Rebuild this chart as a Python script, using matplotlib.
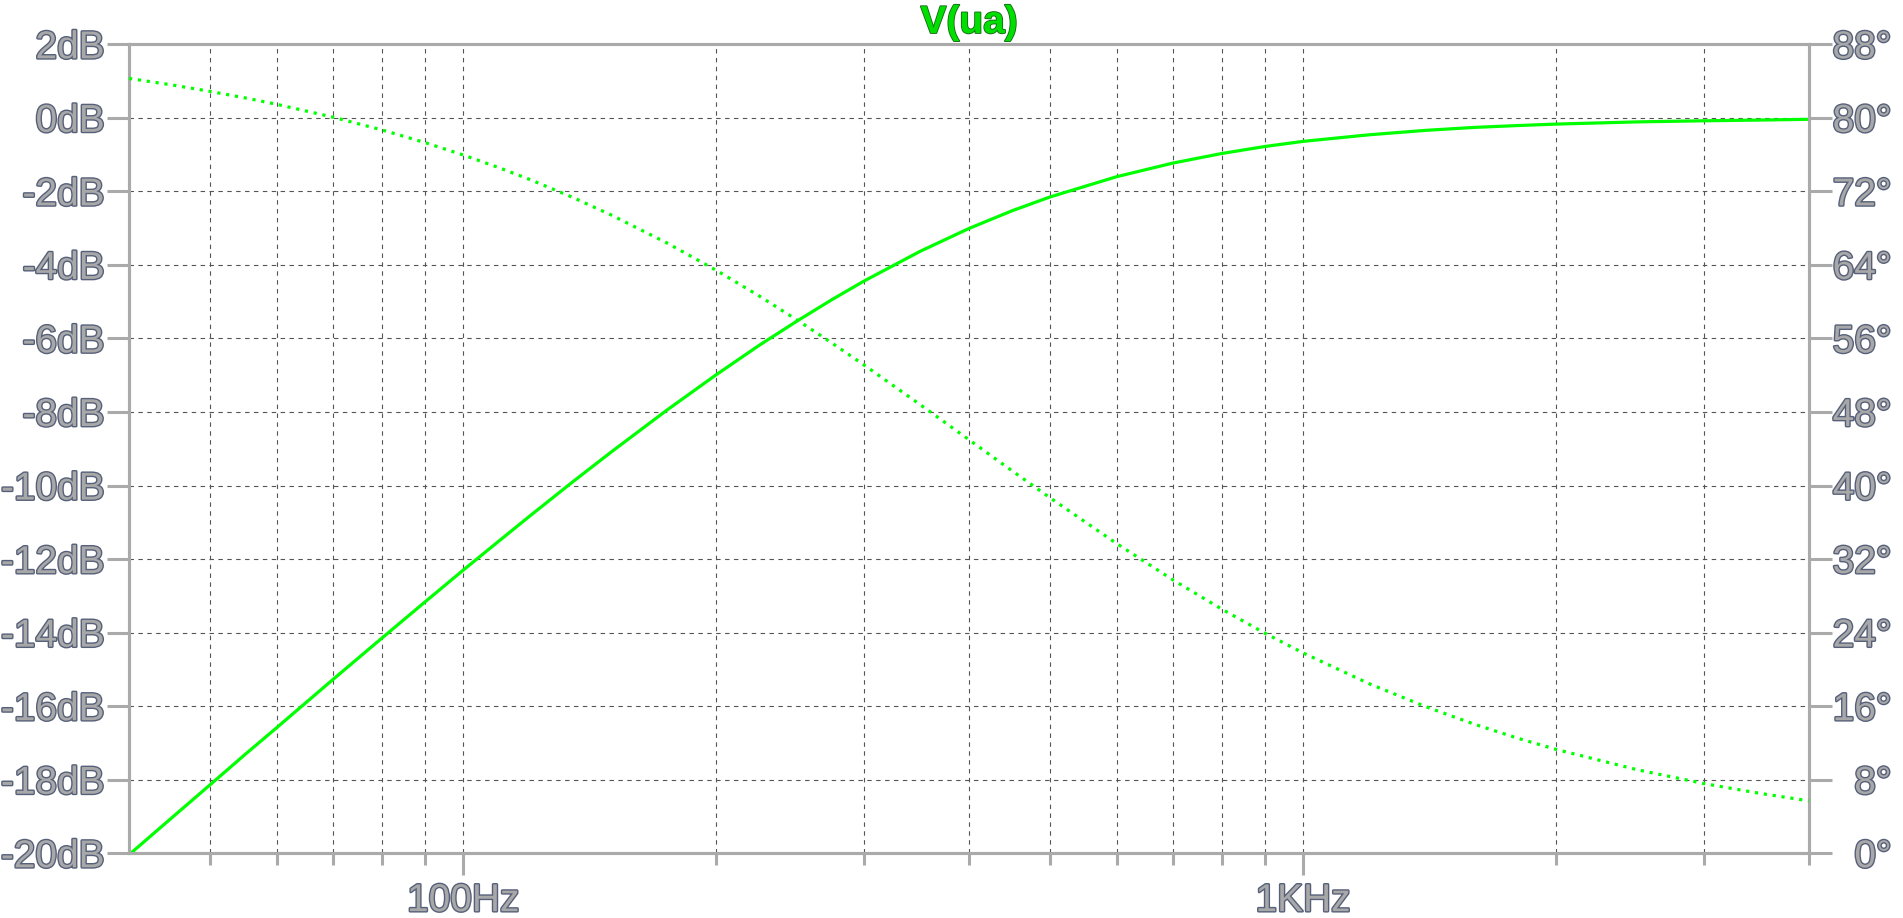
import numpy as np
import matplotlib.pyplot as plt
import matplotlib.patheffects as pe
from matplotlib.ticker import FixedLocator, NullFormatter

# AC sweep: V(ua), magnitude (dB) and phase (deg)
freq = [40, 45, 50, 55, 60, 70, 80, 90, 100, 110, 120, 135, 150, 175, 200,
        225, 250, 275, 300, 350, 400, 450, 500, 600, 700, 800, 900, 1000,
        1200, 1400, 1600, 1800, 2000, 2500, 3000, 3500, 4000]
mag_db = [-20.04, -19.03, -18.13, -17.31, -16.58, -15.27, -14.15, -13.17,
          -12.30, -11.53, -10.83, -9.90, -9.09, -7.94, -6.99, -6.19, -5.52,
          -4.94, -4.44, -3.63, -3.01, -2.53, -2.15, -1.60, -1.23, -0.97,
          -0.78, -0.64, -0.46, -0.34, -0.26, -0.21, -0.17, -0.11, -0.08,
          -0.06, -0.04]
phase_deg = [84.29, 83.58, 82.87, 82.17, 81.47, 80.07, 78.69, 77.32, 75.96,
             74.62, 73.30, 71.35, 69.44, 66.37, 63.43, 60.64, 57.99, 55.49,
             53.13, 48.81, 45.00, 41.63, 38.66, 33.69, 29.74, 26.57, 23.96,
             21.80, 18.43, 15.95, 14.04, 12.53, 11.31, 9.09, 7.59, 6.52, 5.71]

db_ticks = list(range(-20, 3, 2))
deg_ticks = list(range(0, 89, 8))
x_major = [100, 1000]
x_major_labels = ['100Hz', '1KHz']
x_minor = [50, 60, 70, 80, 90, 200, 300, 400, 500, 600, 700, 800, 900,
           2000, 3000, 4000]

trace = '#00ff00'
axis_grey = '#aaaaaa'
grid_grey = '#555555'

plt.rcParams['font.family'] = ['Liberation Sans', 'DejaVu Sans']

fig = plt.figure(figsize=(19.03, 9.18), dpi=100)
ax = fig.add_axes([129 / 1903, 1 - 853.3 / 918, (1809 - 129) / 1903, (853.3 - 44.3) / 918])
ax2 = ax.twinx()

ax.plot(freq, mag_db, color=trace, lw=2.3, zorder=3)
ax2.plot(freq, phase_deg, color=trace, lw=2.3, linestyle=(0, (1, 1.8)), zorder=3)

ax.set_xscale('log')
ax.set_xlim(40, 4004)
ax.set_ylim(-20, 2)
ax2.set_ylim(0, 88)

ax.xaxis.set_major_locator(FixedLocator(x_major))
ax.xaxis.set_minor_locator(FixedLocator(x_minor))
ax.xaxis.set_minor_formatter(NullFormatter())
ax.set_xticks(x_major, x_major_labels)
ax.set_yticks(db_ticks, [f'{v}dB' for v in db_ticks])
ax2.set_yticks(deg_ticks, [f'{v}°' for v in deg_ticks])

ax.grid(True, which='both', color=grid_grey, lw=0.8, linestyle=(0, (4, 4)))
ax.set_axisbelow(True)

for a in (ax, ax2):
    for sp in a.spines.values():
        sp.set_color(axis_grey)
        sp.set_linewidth(2.2)
    a.set_facecolor('none')

ax.tick_params(axis='x', which='major', length=16, width=2.2, color=axis_grey,
               pad=5.5, labelsize=28, labelcolor='#a8a8a8')
ax.tick_params(axis='x', which='minor', length=8.6, width=2.2, color=axis_grey)
ax.tick_params(axis='y', length=16, width=2.2, color=axis_grey, pad=1.5,
               labelsize=28, labelcolor='#a8a8a8')
ax2.tick_params(axis='y', length=16.5, width=2.2, color=axis_grey, pad=43,
                labelsize=28, labelcolor='#a8a8a8')

outline = [pe.withStroke(linewidth=2.0, foreground='#56607a')]
for lbl in ax.get_xticklabels() + ax.get_yticklabels() + ax2.get_yticklabels():
    lbl.set_path_effects(outline)
for lbl in ax2.get_yticklabels():
    lbl.set_horizontalalignment('right')

fig.text((129 + 1809) / 2 / 1903, 1 - 33 / 918, 'V(ua)', ha='center', va='baseline',
         fontsize=28, fontweight='bold', color='#00e000',
         path_effects=[pe.withStroke(linewidth=1.3, foreground='#1a6a1a')])

fig.savefig('out.png', dpi=100, facecolor='white')
